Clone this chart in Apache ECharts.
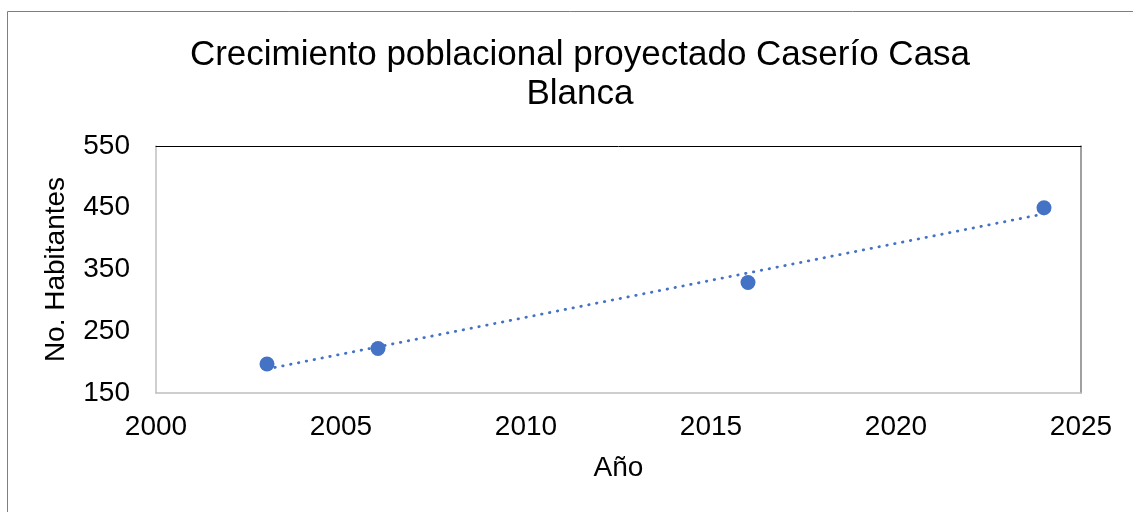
<!DOCTYPE html>
<html>
<head>
<meta charset="utf-8">
<script src="https://cdn.jsdelivr.net/npm/echarts@6/dist/echarts.min.js"></script>
<style>
  html, body { margin: 0; padding: 0; background: #fff; }
  #chart { width: 1133px; height: 512px; }
</style>
</head>
<body>
<div id="chart"></div>
<script>
// datos
const years = [2003, 2006, 2016, 2024];
const habitantes = [197, 222, 329, 450];
const xTicks = [2000, 2005, 2010, 2015, 2020, 2025];
const yTicks = [150, 250, 350, 450, 550];

// linea de tendencia lineal (minimos cuadrados), como en Excel
function trendLine(xs, ys) {
    let n = xs.length, mx = 0, my = 0
    for (let i = 0; i < n; i++) { mx += xs[i] / n; my += ys[i] / n }
    let sxy = 0, sxx = 0
    for (let i = 0; i < n; i++) {
        sxy += (xs[i] - mx) * (ys[i] - my)
        sxx += (xs[i] - mx) * (xs[i] - mx)
    }
    let b = sxy / sxx, a = my - b * mx
    let x0 = xs[0], x1 = xs[n - 1]
    return [[x0, a + b * x0], [x1, a + b * x1]]
}

const font = '"Liberation Sans", Arial, sans-serif'
const blue = '#4472C4'

let myChart = echarts.init(document.getElementById('chart'))
let option = {
    animation: false,
    backgroundColor: '#fff',
    title: {
        text: 'Crecimiento poblacional proyectado Caserío Casa\nBlanca',
        left: 575,
        top: 31,
        textAlign: 'center',
        textStyle: {
            fontFamily: font,
            fontSize: 35,
            fontWeight: 'normal',
            color: '#000',
            lineHeight: 39
        }
    },
    // marco exterior (solo se ven el borde izquierdo y el superior)
    graphic: [{
        type: 'polyline',
        shape: { points: [[7.5, 520], [7.5, 11.5], [1140, 11.5]] },
        style: { fill: 'none', stroke: '#7f7f7f', lineWidth: 1 },
        silent: true
    }],
    grid: {
        left: 156,
        top: 146,
        right: 52,
        bottom: 119,
        containLabel: false
    },
    xAxis: [{
        type: 'value',
        min: xTicks[0],
        max: xTicks[xTicks.length - 1],
        interval: 5,
        name: 'Año',
        nameLocation: 'middle',
        nameGap: 61,
        nameTextStyle: { fontFamily: font, fontSize: 28, color: '#000' },
        axisLine: { show: true, lineStyle: { color: '#bfbfbf', width: 1.5 } },
        axisTick: { show: false },
        splitLine: { show: false },
        axisLabel: {
            fontFamily: font, fontSize: 28, color: '#000', margin: 20,
            formatter: function (v) { return String(v) }
        }
    }, {
        type: 'value',
        position: 'top',
        min: xTicks[0],
        max: xTicks[xTicks.length - 1],
        interval: 5,
        axisLine: { show: true, lineStyle: { color: '#000', width: 1 } },
        axisTick: { show: false },
        splitLine: { show: false },
        axisLabel: { show: false }
    }],
    yAxis: [{
        type: 'value',
        min: yTicks[0],
        max: yTicks[yTicks.length - 1],
        interval: 100,
        name: 'No. Habitantes',
        nameLocation: 'middle',
        nameGap: 86,
        nameTextStyle: { fontFamily: font, fontSize: 28, color: '#000' },
        axisLine: { show: true, lineStyle: { color: '#bfbfbf', width: 1.5 } },
        axisTick: { show: false },
        splitLine: { show: false },
        axisLabel: { fontFamily: font, fontSize: 28, color: '#000', margin: 26 }
    }, {
        type: 'value',
        position: 'right',
        min: yTicks[0],
        max: yTicks[yTicks.length - 1],
        interval: 100,
        axisLine: { show: true, lineStyle: { color: '#808080', width: 1.5 } },
        axisTick: { show: false },
        splitLine: { show: false },
        axisLabel: { show: false }
    }],
    series: [{
        name: 'Tendencia',
        type: 'line',
        data: trendLine(years, habitantes),
        symbol: 'none',
        lineStyle: { color: blue, width: 2.8, type: [0.5, 7.5], cap: 'round' },
        z: 1
    }, {
        name: 'Habitantes',
        type: 'scatter',
        data: years.map((y, i) => [y, habitantes[i]]),
        symbolSize: 15,
        itemStyle: { color: blue, opacity: 1 },
        z: 2
    }]
}
myChart.setOption(option)
</script>
</body>
</html>
